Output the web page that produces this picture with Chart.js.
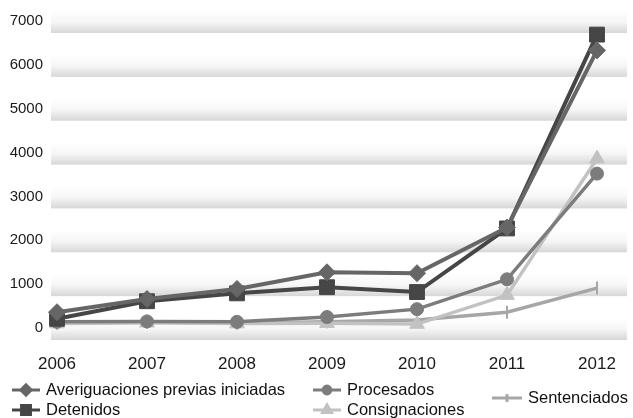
<!DOCTYPE html>
<html>
<head>
<meta charset="utf-8">
<script src="https://cdn.jsdelivr.net/npm/chart.js@4/dist/chart.umd.min.js"></script>
<style>
html,body{margin:0;padding:0;background:#fff;}
#wrap{width:633px;height:418px;position:relative;}
</style>
</head>
<body>
<div id="wrap"><canvas id="c" width="633" height="418"></canvas></div>
<script>
const years = ['2006','2007','2008','2009','2010','2011','2012'];
const yTickValues = [0,1000,2000,3000,4000,5000,6000,7000];
const averiguaciones = [360, 660, 890, 1270, 1250, 2290, 6330];
const detenidos = [210, 610, 790, 930, 820, 2270, 6690];
const procesados = [140, 150, 140, 250, 430, 1110, 3520];
const consignaciones = [100, 120, 100, 110, 90, 750, 3860];
const sentenciados = [110, 130, 110, 140, 180, 360, 910];
const seriesNames = ['Averiguaciones previas iniciadas','Detenidos','Procesados','Consignaciones','Sentenciados'];

const FONT = '"Liberation Sans", Arial, sans-serif';

const bandPlugin = {
  id: 'bands',
  beforeDatasetsDraw(chart) {
    const {ctx, chartArea, scales} = chart;
    const y = scales.y;
    const left = chartArea.left - 6, right = chartArea.right + 30;
    ctx.save();
    for (const v of yTickValues) {
      const py = y.getPixelForValue(v);
      const g = ctx.createLinearGradient(0, py - 10, 0, py + 12);
      g.addColorStop(0, '#ffffff');
      g.addColorStop(0.5, '#f6f6f6');
      g.addColorStop(1, '#d7d7d7');
      ctx.fillStyle = g;
      ctx.fillRect(left, py - 10, right - left, 22);
    }
    ctx.restore();
  }
};

const legendPos = [
  {x: 12, y: 390},
  {x: 12, y: 410},
  {x: 313, y: 390},
  {x: 313, y: 410},
  {x: 492, y: 398}
];

const legendPlugin = {
  id: 'customLegend',
  afterDraw(chart) {
    const ctx = chart.ctx;
    ctx.save();
    chart.data.datasets.forEach((ds, i) => {
      const p = legendPos[i];
      const len = i === 4 ? 30 : 28;
      ctx.strokeStyle = ds.borderColor;
      ctx.lineWidth = 3;
      ctx.beginPath();
      ctx.moveTo(p.x, p.y);
      ctx.lineTo(p.x + len, p.y);
      ctx.stroke();
      ctx.fillStyle = ds.pointBackgroundColor;
      ctx.strokeStyle = ds.pointBorderColor;
      Chart.helpers.drawPoint(ctx, {
        pointStyle: ds.pointStyle,
        radius: ds.pointRadius * 0.6,
        rotation: ds.pointRotation || 0,
        borderWidth: ds.pointBorderWidth
      }, p.x + len / 2, p.y);
      ctx.fillStyle = '#111111';
      ctx.font = '16.5px ' + FONT;
      ctx.textBaseline = 'middle';
      ctx.textAlign = 'left';
      ctx.fillText(ds.label, p.x + len + 6, p.y);
    });
    ctx.restore();
  }
};

function mk(label, data, color, style, radius, lw, extra) {
  return Object.assign({
    label, data,
    borderColor: color,
    backgroundColor: color,
    pointBackgroundColor: color,
    pointBorderColor: color,
    pointStyle: style,
    pointRadius: radius,
    pointHoverRadius: radius,
    pointBorderWidth: 1,
    borderWidth: lw,
    tension: 0,
    clip: false
  }, extra || {});
}

new Chart(document.getElementById('c'), {
  type: 'line',
  data: {
    labels: years,
    datasets: [
      mk(seriesNames[0], averiguaciones, '#666666', 'rectRot', 8.5, 4),
      mk(seriesNames[1], detenidos, '#464646', 'rect', 10.5, 4),
      mk(seriesNames[2], procesados, '#7c7c7c', 'circle', 6.5, 3.5),
      mk(seriesNames[3], consignaciones, '#c2c2c2', 'triangle', 8.5, 3.5),
      mk(seriesNames[4], sentenciados, '#a6a6a6', 'line', 6.5, 3.5, {pointRotation: 90, pointBorderWidth: 2})
    ]
  },
  options: {
    responsive: false,
    animation: false,
    devicePixelRatio: 1,
    layout: {autoPadding: false, padding: {top: 21, right: 36, left: 0, bottom: 0}},
    plugins: {legend: {display: false}, tooltip: {enabled: false}},
    scales: {
      x: {
        offset: false,
        grid: {display: false, drawTicks: false},
        border: {display: false},
        ticks: {font: {size: 17, family: FONT}, color: '#1a1a1a', padding: 26, maxRotation: 0},
        afterFit(s) { s.height = 90; s.paddingLeft = 0; s.paddingRight = 0; }
      },
      y: {
        min: 0, max: 7000,
        grid: {display: false, drawTicks: false},
        border: {display: false},
        ticks: {
          stepSize: 1000,
          font: {size: 15, family: FONT}, color: '#1a1a1a', padding: 14,
          callback: (v) => yTickValues.includes(v) ? String(v) : ''
        },
        afterFit(s) { s.width = 57; s.paddingTop = 0; s.paddingBottom = 0; }
      }
    }
  },
  plugins: [bandPlugin, legendPlugin]
});
</script>
</body>
</html>
